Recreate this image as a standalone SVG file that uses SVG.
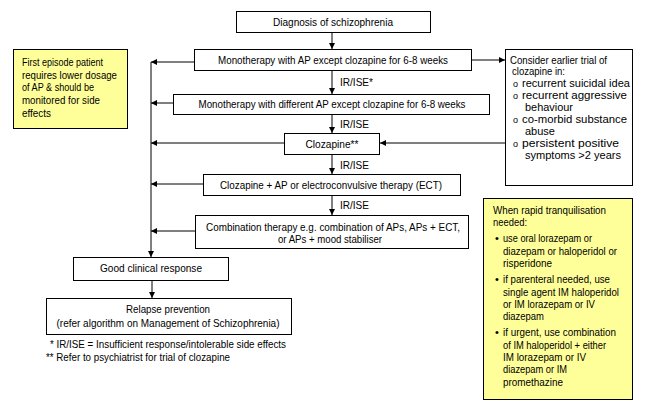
<svg xmlns="http://www.w3.org/2000/svg" width="650" height="409" viewBox="0 0 650 409">
<defs>
<style>
text{font-family:"Liberation Sans Narrow","Liberation Sans",Arial,sans-serif;font-size:11px;fill:#000}
.box{fill:#fff;stroke:#000;stroke-width:1}
.ybox{fill:#ffff99;stroke:#000;stroke-width:1}
.ln{fill:none;stroke:#000;stroke-width:1}
.c{text-anchor:middle}
.o{font-size:9px}
</style>
<marker id="ah" viewBox="0 0 6 6" refX="6" refY="3" markerWidth="6" markerHeight="6" markerUnits="userSpaceOnUse" orient="auto">
<path d="M0,0 L6,3 L0,6 z" fill="#000"/>
</marker>
</defs>
<rect width="650" height="409" fill="#fff"/>

<g id="connectors">
<line class="ln" x1="332" y1="32" x2="332" y2="49" marker-end="url(#ah)"/>
<line class="ln" x1="332" y1="71" x2="332" y2="94" marker-end="url(#ah)"/>
<line class="ln" x1="332" y1="114" x2="332" y2="133" marker-end="url(#ah)"/>
<line class="ln" x1="332" y1="155" x2="332" y2="174" marker-end="url(#ah)"/>
<line class="ln" x1="332" y1="195" x2="332" y2="215" marker-end="url(#ah)"/>
<line class="ln" x1="472" y1="60" x2="505" y2="60" marker-end="url(#ah)"/>
<line class="ln" x1="505" y1="143" x2="380" y2="143" marker-end="url(#ah)"/>
<line class="ln" x1="195" y1="62" x2="151" y2="62" marker-end="url(#ah)"/>
<line class="ln" x1="173" y1="103" x2="151" y2="103" marker-end="url(#ah)"/>
<line class="ln" x1="284" y1="143" x2="151" y2="143" marker-end="url(#ah)"/>
<line class="ln" x1="203" y1="184" x2="151" y2="184" marker-end="url(#ah)"/>
<line class="ln" x1="195" y1="231" x2="151" y2="231" marker-end="url(#ah)"/>
<line class="ln" x1="151" y1="62" x2="151" y2="257" marker-end="url(#ah)"/>
<line class="ln" x1="152" y1="280" x2="152" y2="298" marker-end="url(#ah)"/>
<text x="340" y="86" textLength="33" lengthAdjust="spacingAndGlyphs">IR/ISE*</text>
<text x="340" y="128" textLength="29" lengthAdjust="spacingAndGlyphs">IR/ISE</text>
<text x="340" y="169" textLength="29" lengthAdjust="spacingAndGlyphs">IR/ISE</text>
<text x="340" y="209" textLength="29" lengthAdjust="spacingAndGlyphs">IR/ISE</text>
</g>

<g id="diagnosis">
<rect class="box" x="236.5" y="11.5" width="194" height="21"/>
<text class="c" x="333" y="25.5" textLength="120" lengthAdjust="spacingAndGlyphs">Diagnosis of schizophrenia</text>
</g>

<g id="mono1">
<rect class="box" x="194.5" y="49.5" width="277" height="21"/>
<text class="c" x="333" y="64" textLength="230" lengthAdjust="spacingAndGlyphs">Monotherapy with AP except clozapine for 6-8 weeks</text>
</g>

<g id="mono2">
<rect class="box" x="173.5" y="94.5" width="316" height="20"/>
<text class="c" x="332" y="108" textLength="267" lengthAdjust="spacingAndGlyphs">Monotherapy with different AP except clozapine for 6-8 weeks</text>
</g>

<g id="clozapine">
<rect class="box" x="284.5" y="133.5" width="95" height="21"/>
<text class="c" x="332" y="148" textLength="53" lengthAdjust="spacingAndGlyphs">Clozapine**</text>
</g>

<g id="clozapine-ap">
<rect class="box" x="203.5" y="174.5" width="257" height="21"/>
<text class="c" x="331" y="189" textLength="222" lengthAdjust="spacingAndGlyphs">Clozapine + AP or electroconvulsive therapy (ECT)</text>
</g>

<g id="combination">
<rect class="box" x="195.5" y="215.5" width="273" height="33"/>
<text class="c" x="333" y="231" textLength="254" lengthAdjust="spacingAndGlyphs">Combination therapy e.g. combination of APs, APs + ECT,</text>
<text class="c" x="330" y="243" textLength="104" lengthAdjust="spacingAndGlyphs">or APs + mood stabiliser</text>
</g>

<g id="good-response">
<rect class="box" x="73.5" y="257.5" width="155" height="23"/>
<text class="c" x="151" y="272" textLength="102" lengthAdjust="spacingAndGlyphs">Good clinical response</text>
</g>

<g id="relapse">
<rect class="box" x="46.5" y="298.5" width="245" height="36"/>
<text class="c" x="168" y="313" textLength="84" lengthAdjust="spacingAndGlyphs">Relapse prevention</text>
<text class="c" x="168" y="327" textLength="223" lengthAdjust="spacingAndGlyphs">(refer algorithm on Management of Schizophrenia)</text>
</g>

<g id="footnotes">
<text x="50" y="348" textLength="236" lengthAdjust="spacingAndGlyphs">* IR/ISE = Insufficient response/intolerable side effects</text>
<text x="46" y="361" textLength="184" lengthAdjust="spacingAndGlyphs">** Refer to psychiatrist for trial of clozapine</text>
</g>

<g id="first-episode-note">
<rect class="ybox" x="13.5" y="49.5" width="114" height="79"/>
<text x="22" y="66" textLength="81" lengthAdjust="spacingAndGlyphs">First episode patient</text>
<text x="22" y="79" textLength="95" lengthAdjust="spacingAndGlyphs">requires lower dosage</text>
<text x="22" y="91" textLength="72" lengthAdjust="spacingAndGlyphs">of AP  &amp; should be</text>
<text x="22" y="104" textLength="78" lengthAdjust="spacingAndGlyphs">monitored for side</text>
<text x="22" y="117" textLength="29" lengthAdjust="spacingAndGlyphs">effects</text>
</g>

<g id="consider-clozapine">
<rect class="box" x="505.5" y="49.5" width="127" height="136"/>
<text x="510" y="64" textLength="97" lengthAdjust="spacingAndGlyphs">Consider earlier trial of</text>
<text x="512" y="75" textLength="53" lengthAdjust="spacingAndGlyphs">clozapine in:</text>
<text class="o" x="513" y="87">o</text>
<text x="522" y="87" textLength="108" lengthAdjust="spacingAndGlyphs">recurrent suicidal idea</text>
<text class="o" x="513" y="99">o</text>
<text x="522" y="99" textLength="105" lengthAdjust="spacingAndGlyphs">recurrent aggressive</text>
<text x="525" y="111" textLength="48" lengthAdjust="spacingAndGlyphs">behaviour</text>
<text class="o" x="513" y="123">o</text>
<text x="522" y="123" textLength="105" lengthAdjust="spacingAndGlyphs">co-morbid substance</text>
<text x="525" y="135" textLength="30" lengthAdjust="spacingAndGlyphs">abuse</text>
<text class="o" x="513" y="147">o</text>
<text x="522" y="147" textLength="97" lengthAdjust="spacingAndGlyphs">persistent positive</text>
<text x="525" y="159" textLength="96" lengthAdjust="spacingAndGlyphs">symptoms &gt;2 years</text>
</g>

<g id="rapid-tranquilisation-note">
<rect class="ybox" x="483.5" y="198.5" width="149" height="201"/>
<text x="493" y="214" textLength="113" lengthAdjust="spacingAndGlyphs">When rapid tranquilisation</text>
<text x="493" y="226" textLength="34" lengthAdjust="spacingAndGlyphs">needed:</text>
<text x="495" y="242">•</text>
<text x="503" y="242" textLength="89" lengthAdjust="spacingAndGlyphs">use oral lorazepam or</text>
<text x="503" y="254.5" textLength="114" lengthAdjust="spacingAndGlyphs">diazepam or haloperidol or</text>
<text x="503" y="267" textLength="49" lengthAdjust="spacingAndGlyphs">risperidone</text>
<text x="495" y="283">•</text>
<text x="503" y="283" textLength="107" lengthAdjust="spacingAndGlyphs">if parenteral needed, use</text>
<text x="503" y="295.5" textLength="116" lengthAdjust="spacingAndGlyphs">single agent IM haloperidol</text>
<text x="503" y="308" textLength="92" lengthAdjust="spacingAndGlyphs">or IM lorazepam or IV</text>
<text x="503" y="320" textLength="41" lengthAdjust="spacingAndGlyphs">diazepam</text>
<text x="495" y="336">•</text>
<text x="503" y="336" textLength="113" lengthAdjust="spacingAndGlyphs">if urgent, use combination</text>
<text x="503" y="348.5" textLength="103" lengthAdjust="spacingAndGlyphs">of IM haloperidol + either</text>
<text x="503" y="361" textLength="83" lengthAdjust="spacingAndGlyphs">IM lorazepam or IV</text>
<text x="503" y="373" textLength="64" lengthAdjust="spacingAndGlyphs">diazepam or IM</text>
<text x="503" y="385.5" textLength="60" lengthAdjust="spacingAndGlyphs">promethazine</text>
</g>
</svg>
